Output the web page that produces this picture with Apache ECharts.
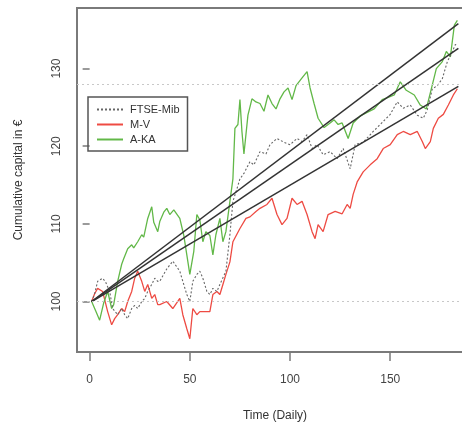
<!DOCTYPE html>
<html><head><meta charset="utf-8">
<script src="https://cdn.jsdelivr.net/npm/echarts@6/dist/echarts.min.js"></script>
<style>html,body{margin:0;padding:0;background:#fff}#c{width:462px;height:422px}</style>
</head><body><div id="c"></div>
<script>
// Data: [day, cumulative capital]
const ftseMib = [[1,100],[2.5,101],[4,102.6],[6.5,103],[8,102.5],[10,101.3],[11.5,99.1],[14,98.3],[16,99.1],[17.5,98.3],[19,97.8],[21,99.1],[22.5,99.5],[24,99.1],[26,100],[27.5,100.4],[29,101.3],[31,102.2],[32.5,103],[34,102.6],[35,102.6],[38.5,104.2],[41.5,105.2],[45,103.9],[46.5,102.6],[48.5,100.9],[50,100],[51.5,102.6],[53.5,103.5],[55,103.9],[56.5,103],[58.5,101.3],[60,100.9],[61.5,101.7],[63.5,101.3],[65,102.2],[68,103.9],[70,108.6],[71.5,112.9],[73.5,114.5],[75,115.8],[77,116.5],[80,118],[82,117.6],[85,119.3],[88,119],[90,120.2],[93.5,121],[97,120.5],[100,120.2],[103.5,121],[106,120.6],[108.5,121.5],[111,119.7],[113.5,120.2],[116.5,118.9],[120,119.3],[123.5,118.4],[126.5,119.7],[130,117.1],[132.5,120.2],[136.5,120.5],[141.5,121.9],[145,122.8],[150,124.1],[153.5,125.7],[156.5,124.9],[160,125.3],[163.5,124],[166.5,123.6],[168.5,124.7],[171,127.4],[173.5,127.8],[176,128.7],[178.5,130.9],[181,132.2],[182.5,133.1],[183.5,133]];
const mv = [[1,100],[2.5,101],[4,101.7],[6.5,101.3],[9,98.7],[11,97],[12.5,97.8],[14,98.3],[16,99.1],[17.5,98.7],[19,100],[21,101.3],[22.5,103],[24,103.9],[26,102.6],[27.5,101.3],[29,102.2],[31,100.4],[32.5,100.9],[34,99.6],[35,99.6],[38.5,100],[41.5,99.1],[45,100.4],[46.5,98.3],[48.5,96.5],[50,95.2],[51.5,99.1],[53.5,98.3],[55,98.7],[57.5,98.7],[60,98.7],[61.5,100.9],[63.5,101.3],[65,100.9],[66.5,102.2],[68,103.5],[70,105.1],[71.5,107.7],[75,109.4],[78,110.7],[80,110.9],[83,111.6],[85,112],[88.5,112.5],[91,113.3],[93.5,111.2],[96,109.9],[98.5,110.7],[101,113.3],[103.5,112.5],[106,112.9],[108.5,111.2],[111,109],[112.5,108.1],[114,109.9],[116.5,109],[119,111.2],[122.5,111.6],[126,111.3],[128.5,112.5],[130,112],[131.5,113.8],[133.5,115.4],[136.5,116.7],[140,117.6],[143.5,118.4],[146.5,119.7],[150,120.2],[153.5,121.5],[156.5,121.9],[160,121.5],[163.5,121.9],[166,120.6],[167.5,119.7],[170,120.6],[171.5,122.3],[174,123.6],[176.5,124.1],[179,125.3],[181.5,126.6],[183.5,127.4]];
const aka = [[1,100],[3,98.8],[5,97.6],[7,99.8],[9,101.3],[11,99.1],[12,99.6],[14,102.6],[16,104.8],[17,105.5],[19,106.8],[21,107.3],[22,106.9],[24,107.7],[26,108.6],[27,108.3],[29,110.7],[31,112.2],[32,110.2],[34,109],[35,110.3],[37,111.5],[38.5,112],[40,111.2],[42,111.8],[45,110.7],[47,108.5],[48.5,106],[50,103.5],[52,106.5],[53.5,111.2],[55,110.5],[56.5,107.7],[58,109],[60,108.5],[61.5,106],[63,108.6],[65,110.7],[66.5,107.7],[68,109],[70,112.9],[71.5,115.8],[72.5,122.3],[74,122.8],[75,126],[76,121.9],[77,119],[79,124],[81,126.1],[83,125.7],[85,125.5],[87,124.5],[89,126.6],[91,125.5],[93,124.8],[95,126.1],[97,127],[99,127.5],[101,126],[103,127.8],[106,128.8],[108.5,129.6],[110,127.5],[112,125.5],[114,123.6],[117,122.4],[120,123],[122,123.4],[124,122.8],[126,123],[129,121],[131.5,123],[135,123.9],[138,124.3],[142,124.8],[146,126],[149,126.3],[152,126.6],[155,128.3],[158,127.2],[162,126.6],[165,125.3],[168,124.8],[171,127.9],[173,130],[176,130.9],[178,132.2],[180,131.5],[182,135.6],[183.5,136.2]];
const trendAka = [[1,100],[184,135.8]];
const trendFtse = [[1,100],[184,132.6]];
const trendMv = [[1,100],[184,127.7]];
const refLevels = [100, 128];
const xTicks = [0, 50, 100, 150];
const yTicks = [100, 110, 120, 130];

const chart = echarts.init(document.getElementById('c'), null, {renderer:'canvas'});
const font = 'Liberation Sans, Arial, sans-serif';
const trendStyle = {color:'#333', width:1.5};
chart.setOption({
  animation:false,
  backgroundColor:'#fff',
  grid:{left:77, top:8, right:-11, bottom:70, show:true, borderColor:'#7a7a7a', borderWidth:2, backgroundColor:'transparent', containLabel:false, outerBoundsMode:'none'},
  legend:{
    orient:'vertical', left:88, top:97, data:['FTSE-Mib','M-V','A-KA'],
    borderColor:'#555', borderWidth:1.5, padding:[7,8,6,8], itemGap:4,
    itemWidth:26, itemHeight:10,
    itemStyle:{opacity:0},
    textStyle:{fontFamily:font, fontSize:11, color:'#333', padding:[0,0,0,2]}
  },
  xAxis:{type:'value', min:-6.3, max:191.3,
    name:'Time (Daily)', nameLocation:'middle', nameGap:58,
    nameTextStyle:{fontFamily:font, fontSize:12, color:'#333'},
    axisLine:{show:false}, splitLine:{show:false},
    axisTick:{show:true, length:9, customValues:xTicks, lineStyle:{color:'#7a7a7a', width:1.5}},
    axisLabel:{customValues:xTicks, margin:22, fontFamily:font, fontSize:12, color:'#444'}
  },
  yAxis:{type:'value', min:93.5, max:137.8,
    name:'Cumulative capital in €', nameLocation:'middle', nameGap:52,
    nameTextStyle:{fontFamily:font, fontSize:12, color:'#333'},
    axisLine:{show:false}, splitLine:{show:false},
    axisTick:{show:true, length:7, customValues:yTicks, lineStyle:{color:'#7a7a7a', width:1.5}},
    axisLabel:{customValues:yTicks, rotate:90, margin:14, fontFamily:font, fontSize:12, color:'#444'}
  },
  series:[
    {type:'line', name:'ref', data:[], silent:true,
      markLine:{symbol:'none', silent:true, label:{show:false},
        lineStyle:{color:'#c8c8c8', type:[2,3], width:1.2},
        data:refLevels.map(v=>({yAxis:v}))}},
    {type:'line', name:'M-V', data:mv, symbol:'none', lineStyle:{color:'#ee4b43', width:1.3}, itemStyle:{color:'#ee4b43'}},
    {type:'line', name:'A-KA', data:aka, symbol:'none', lineStyle:{color:'#62b848', width:1.3}, itemStyle:{color:'#62b848'}},
    {type:'line', name:'FTSE-Mib', data:ftseMib, symbol:'none', lineStyle:{color:'#666', width:1.1, type:[2,2]}, itemStyle:{color:'#888'}},
    {type:'line', name:'t1', data:trendAka, symbol:'none', lineStyle:trendStyle},
    {type:'line', name:'t2', data:trendFtse, symbol:'none', lineStyle:trendStyle},
    {type:'line', name:'t3', data:trendMv, symbol:'none', lineStyle:trendStyle}
  ]
});
</script></body></html>
